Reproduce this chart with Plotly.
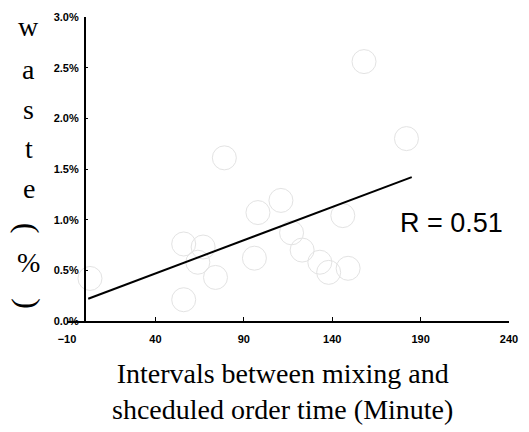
import plotly.graph_objects as go

# data (waste as fraction)
interval_min = [3, 56, 56, 64, 67, 74, 79, 96, 98, 111, 117, 123, 133, 138, 149, 146, 158, 182]
waste = [0.0042, 0.0076, 0.0021, 0.0058, 0.0073, 0.0043, 0.0161, 0.0062, 0.0107, 0.0119, 0.0087,
         0.0070, 0.0058, 0.0048, 0.0052, 0.0104, 0.0256, 0.0180]

fit_x = [2, 185]
fit_y = [0.0022, 0.0142]

x_ticks = [-10, 40, 90, 140, 190, 240]
y_ticks = [0, 0.005, 0.010, 0.015, 0.020, 0.025, 0.030]

y_title_chars = ["w", "a", "s", "t", "e", "(", "%", ")"]
x_title = "Intervals between mixing and<br>shceduled order time (Minute)"
r_text = "R = 0.51"

W, H = 529, 432
ML, MR, MT, MB = 67, 11, 15, 111

fig = go.Figure()
fig.add_trace(go.Scatter(
    x=interval_min, y=waste, mode="markers",
    marker=dict(symbol="circle-open", size=24, color="#e3e3e3", line=dict(width=1)),
    showlegend=False, hoverinfo="skip"))
fig.add_trace(go.Scatter(
    x=fit_x, y=fit_y, mode="lines",
    line=dict(color="black", width=2), showlegend=False))

tick_font = dict(family="Liberation Sans", size=11, color="black", weight="bold")
fig.update_layout(
    width=W, height=H,
    margin=dict(l=ML, r=MR, t=MT, b=MB, pad=0),
    paper_bgcolor="white", plot_bgcolor="white",
    xaxis=dict(range=[-10, 240], tickvals=x_ticks, showgrid=False, zeroline=False,
               showline=True, linecolor="black", linewidth=1.5,
               ticks="inside", ticklen=4, tickcolor="black",
               ticklabelstandoff=7, tickfont=tick_font),
    yaxis=dict(range=[0, 0.030], tickvals=y_ticks, tickformat=".1%", showgrid=False,
               zeroline=False, showline=True, linecolor="black", linewidth=1.5,
               anchor="free", position=10 / 250,
               ticks="inside", ticklen=3, tickcolor="black",
               ticklabelstandoff=3, tickfont=tick_font),
)

# stacked vertical y-axis title (parentheses turned sideways as in vertical writing)
char_px = [25, 68, 108, 147, 188, 228, 262, 304]
plot_h = H - MT - MB
plot_w = W - ML - MR
for ch, py in zip(y_title_chars, char_px):
    is_paren = ch in "()"
    fig.add_annotation(
        text=ch, xref="paper", yref="paper",
        x=(28 - ML) / plot_w, y=(H - MB - py) / plot_h,
        xanchor="center", yanchor="middle", showarrow=False,
        textangle=90 if is_paren else 0,
        font=dict(family="Liberation Serif", size=32 if is_paren else 28, color="black"))

fig.add_annotation(
    text=x_title, xref="paper", yref="paper",
    x=(287 - ML) / plot_w, y=(H - MB - 392) / plot_h,
    xanchor="center", yanchor="middle", showarrow=False,
    font=dict(family="Liberation Serif", size=28, color="black"))

fig.add_annotation(
    text=r_text, xref="paper", yref="paper",
    x=(459 - ML) / plot_w, y=(H - MB - 222) / plot_h,
    xanchor="center", yanchor="middle", showarrow=False,
    font=dict(family="Liberation Sans", size=27, color="black"))

fig.write_html("out.html")
